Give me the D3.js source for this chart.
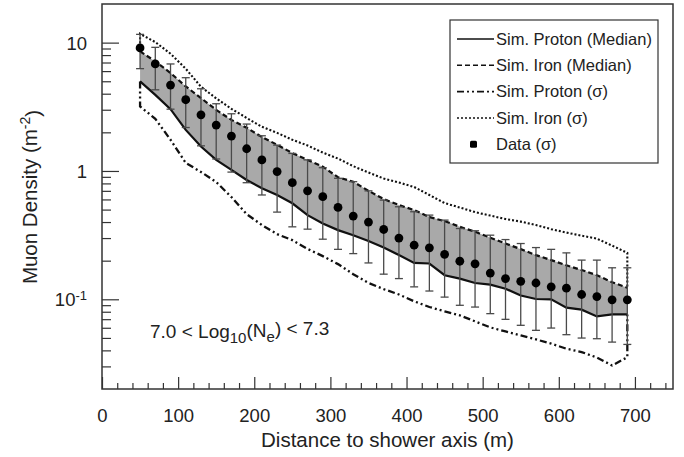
<!DOCTYPE html>
<html>
<head>
<meta charset="utf-8">
<script src="https://cdn.jsdelivr.net/npm/d3@7"></script>
<style>
    body { margin: 0; background: #fff; }
    svg { display: block; font-family: "Liberation Sans", Arial, sans-serif; fill: #222; }
    .axis path { display: none; }
    .axis line { stroke: #333; stroke-width: 1.2; }
</style>
</head>
<body>
<div id="chart"></div>
<script>
// Distance to shower axis (m) for every bin.
const distance = [50, 70, 90, 110, 130, 150, 170, 190, 210, 230, 250, 270, 290, 310, 330, 350, 370,
    390, 410, 430, 450, 470, 490, 510, 530, 550, 570, 590, 610, 630, 650, 670, 690];

// Measured muon density and the ends of its error bars.
const dataMedian = [9.09, 6.82, 4.67, 3.59, 2.74, 2.28, 1.87, 1.49, 1.22, 0.99, 0.81, 0.70, 0.63, 0.52,
    0.445, 0.40, 0.35, 0.30, 0.264, 0.252, 0.224, 0.198, 0.189, 0.160, 0.145, 0.138, 0.134, 0.125,
    0.122, 0.109, 0.105, 0.099, 0.099];
const dataUpper = [11.6, 9.19, 6.82, 5.33, 4.37, 3.34, 2.79, 2.32, 1.88, 1.59, 1.37, 1.22, 1.06, 0.877,
    0.825, 0.70, 0.593, 0.526, 0.481, 0.453, 0.414, 0.356, 0.342, 0.316, 0.292, 0.272, 0.253, 0.245,
    0.230, 0.202, 0.202, 0.176, 0.176];
const dataLower = [6.27, 4.29, 3.03, 2.18, 1.57, 1.24, 0.98, 0.81, 0.65, 0.478, 0.367, 0.352, 0.294,
    0.245, 0.227, 0.192, 0.157, 0.145, 0.125, 0.116, 0.104, 0.0898, 0.087, 0.0773, 0.0698, 0.0627,
    0.0573, 0.0597, 0.053, 0.0499, 0.0493, 0.0464, 0.0445];

// Simulations.
const protonMedian = [4.99, 3.92, 3.03, 2.09, 1.55, 1.22, 1.02, 0.85, 0.733, 0.65, 0.56, 0.453, 0.39,
    0.346, 0.316, 0.285, 0.253, 0.221, 0.192, 0.19, 0.154, 0.145, 0.134, 0.130, 0.121, 0.107, 0.1005,
    0.1, 0.086, 0.083, 0.0736, 0.0763, 0.0763];
const ironMedian = [8.55, 7.14, 5.80, 4.56, 3.70, 2.99, 2.50, 2.17, 1.84, 1.60, 1.38, 1.22, 1.08, 0.893,
    0.825, 0.70, 0.604, 0.543, 0.496, 0.437, 0.407, 0.367, 0.336, 0.302, 0.272, 0.246, 0.221, 0.202,
    0.184, 0.169, 0.154, 0.136, 0.123];
const protonSigma = [3.18, 2.55, 1.75, 1.155, 0.982, 0.82, 0.626, 0.461, 0.379, 0.322, 0.289, 0.247,
    0.217, 0.188, 0.157, 0.134, 0.120, 0.109, 0.0965, 0.0871, 0.0806, 0.075, 0.0673, 0.0604, 0.0562,
    0.0523, 0.0487, 0.0451, 0.0412, 0.0388, 0.0352, 0.0305, 0.0354];
const ironSigma = [11.7, 10.1, 8.20, 6.26, 4.53, 3.68, 3.05, 2.59, 2.21, 1.98, 1.75, 1.58, 1.39, 1.25,
    1.09, 0.973, 0.874, 0.813, 0.75, 0.65, 0.562, 0.519, 0.478, 0.449, 0.422, 0.403, 0.379, 0.352,
    0.331, 0.313, 0.297, 0.262, 0.230];

// Axis ticks and labels.
const xTicks = [0, 100, 200, 300, 400, 500, 600, 700];
const xMinorTicks = [20, 40, 60, 80, 120, 140, 160, 180, 220, 240, 260, 280, 320, 340, 360, 380,
    420, 440, 460, 480, 520, 540, 560, 580, 620, 640, 660, 680, 720, 740];
const yTicks = [0.1, 1, 10];
const yTickBase = ["10", "1", "10"];
const yTickExp = ["-1", "", ""];
const yMinorTicks = [0.03, 0.04, 0.05, 0.06, 0.07, 0.08, 0.09, 0.2, 0.3, 0.4, 0.5, 0.6, 0.7, 0.8, 0.9,
    2, 3, 4, 5, 6, 7, 8, 9];

const legendLabels = ["Sim. Proton (Median)", "Sim. Iron (Median)", "Sim. Proton (\u03c3)",
    "Sim. Iron (\u03c3)", "Data (\u03c3)"];

const margin = { top: 4, left: 102, bottom: 68, right: 11 };
const totalWidth = 684;
const totalHeight = 457;
const width = totalWidth - margin.left - margin.right;
const height = totalHeight - margin.top - margin.bottom;

// Line styles shared by the plot and the legend.
const styles = {
    protonMedian: { dash: null, width: 2.2 },
    ironMedian: { dash: "5,3", width: 2.2 },
    protonSigma: { dash: "7,3,2,3,2,3", width: 2.3 },
    ironSigma: { dash: "2,2", width: 2.1 }
};

const x = d3.scaleLinear().domain([0, 750]).range([0, width]);
const y = d3.scaleLog().domain([0.02, 20]).range([height, 0]);

const svg = d3.select("#chart").append("svg")
    .attr("width", totalWidth)
    .attr("height", totalHeight);

const g = svg.append("g")
    .attr("transform", `translate(${margin.left}, ${margin.top})`);

// Points for each series, as [distance, value] pairs.
const pairs = (values) => values.map((v, i) => [distance[i], v]);
const last = distance.length - 1;

const line = d3.line()
    .x(d => x(d[0]))
    .y(d => y(d[1]));

// Band between the proton and iron medians.
const area = d3.area()
    .x((d, i) => x(distance[i]))
    .y0((d, i) => y(protonMedian[i]))
    .y1((d, i) => y(ironMedian[i]));

g.append("path")
    .attr("d", area(distance))
    .attr("fill", "#a9a9a9");

// Sigma curves are closed at both ends onto their median curves.
const protonSigmaPath = [[distance[0], protonMedian[0]], ...pairs(protonSigma), [distance[last], protonMedian[last]]];
const ironSigmaPath = [[distance[0], ironMedian[0]], ...pairs(ironSigma), [distance[last], ironMedian[last]]];

const drawLine = (points, style) => {
    g.append("path")
        .attr("d", line(points))
        .attr("fill", "none")
        .attr("stroke", "#111")
        .attr("stroke-width", style.width)
        .attr("stroke-dasharray", style.dash);
};

drawLine(ironSigmaPath, styles.ironSigma);
drawLine(protonSigmaPath, styles.protonSigma);
drawLine(pairs(ironMedian), styles.ironMedian);
drawLine(pairs(protonMedian), styles.protonMedian);

// Error bars with small caps.
const bars = g.append("g").attr("class", "error-bars")
    .attr("stroke", "#4a4a4a")
    .attr("stroke-width", 1.3);

distance.forEach((d, i) => {
    const cx = x(d);
    bars.append("line")
        .attr("x1", cx).attr("x2", cx)
        .attr("y1", y(dataUpper[i])).attr("y2", y(dataLower[i]));
    bars.append("line")
        .attr("x1", cx - 4).attr("x2", cx + 4)
        .attr("y1", y(dataUpper[i])).attr("y2", y(dataUpper[i]));
    bars.append("line")
        .attr("x1", cx - 4).attr("x2", cx + 4)
        .attr("y1", y(dataLower[i])).attr("y2", y(dataLower[i]));
});

g.append("g")
    .selectAll("circle")
    .data(dataMedian)
    .join("circle")
    .attr("cx", (d, i) => x(distance[i]))
    .attr("cy", d => y(d))
    .attr("r", 4.4)
    .attr("fill", "#000");

// Axes: ticks point into the plot.
g.append("g")
    .attr("class", "axis")
    .attr("transform", `translate(0, ${height})`)
    .call(d3.axisBottom(x).tickValues(xMinorTicks).tickSize(-6).tickFormat(""));

g.append("g")
    .attr("class", "axis x")
    .attr("transform", `translate(0, ${height})`)
    .call(d3.axisBottom(x).tickValues(xTicks).tickSize(-12).tickPadding(20))
    .selectAll("text")
    .attr("fill", "#222")
    .style("font-size", "18.5px");

g.append("g")
    .attr("class", "axis")
    .call(d3.axisLeft(y).tickValues(yMinorTicks).tickSize(-9).tickFormat(""));

const yAxis = g.append("g")
    .attr("class", "axis y")
    .call(d3.axisLeft(y).tickValues(yTicks).tickSize(-17).tickFormat(""));

yAxis.selectAll(".tick").each(function (d, i) {
    const label = d3.select(this).append("text")
        .attr("x", -15)
        .attr("dy", "0.35em")
        .attr("text-anchor", "end")
        .attr("fill", "#222")
        .style("font-size", "18.5px");
    label.append("tspan").text(yTickBase[i]);
    if (yTickExp[i]) {
        label.append("tspan")
            .attr("dy", "-0.5em")
            .style("font-size", "13px")
            .text(yTickExp[i]);
    }
});

// Plot frame.
g.append("rect")
    .attr("width", width)
    .attr("height", height)
    .attr("fill", "none")
    .attr("stroke", "#333")
    .attr("stroke-width", 1.5);

// Axis titles.
svg.append("text")
    .attr("x", margin.left + width / 2)
    .attr("y", 447)
    .attr("text-anchor", "middle")
    .style("font-size", "20.5px")
    .text("Distance to shower axis (m)");

const yTitle = svg.append("text")
    .attr("transform", `translate(37, ${margin.top + 193}) rotate(-90)`)
    .attr("text-anchor", "middle")
    .style("font-size", "20.5px");
yTitle.append("tspan").text("Muon Density (m");
yTitle.append("tspan").attr("dy", "-0.5em").style("font-size", "14px").text("-2");
yTitle.append("tspan").attr("dy", "0.5em").text(")");

// Shower size annotation.
const note = g.append("text")
    .attr("x", 48)
    .attr("y", 334)
    .style("font-size", "19px");
note.append("tspan").text("7.0 < Log");
note.append("tspan").attr("dy", "0.35em").style("font-size", "15px").text("10");
note.append("tspan").attr("dy", "-0.35em").text("(N");
note.append("tspan").attr("dy", "0.35em").style("font-size", "15px").text("e");
note.append("tspan").attr("dy", "-0.35em").text(") < 7.3");

// Legend.
const legend = svg.append("g")
    .attr("transform", "translate(450, 20)");

legend.append("rect")
    .attr("width", 208)
    .attr("height", 143)
    .attr("fill", "#fff")
    .attr("stroke", "#333")
    .attr("stroke-width", 1.2);

const legendStyles = [styles.protonMedian, styles.ironMedian, styles.protonSigma, styles.ironSigma];

legendLabels.forEach((label, i) => {
    const row = legend.append("g")
        .attr("transform", `translate(0, ${19 + i * 26.3})`);
    if (i < legendStyles.length) {
        row.append("line")
            .attr("x1", 7).attr("x2", 44)
            .attr("stroke", "#111")
            .attr("stroke-width", legendStyles[i].width * 0.7)
            .attr("stroke-dasharray", legendStyles[i].dash);
    } else {
        row.append("rect")
            .attr("x", 20).attr("y", -3.5)
            .attr("width", 7).attr("height", 7)
            .attr("rx", 1.5)
            .attr("fill", "#000");
    }
    row.append("text")
        .attr("x", 46)
        .attr("dy", "0.35em")
        .style("font-size", "16.5px")
        .text(label);
});
</script>
</body>
</html>
